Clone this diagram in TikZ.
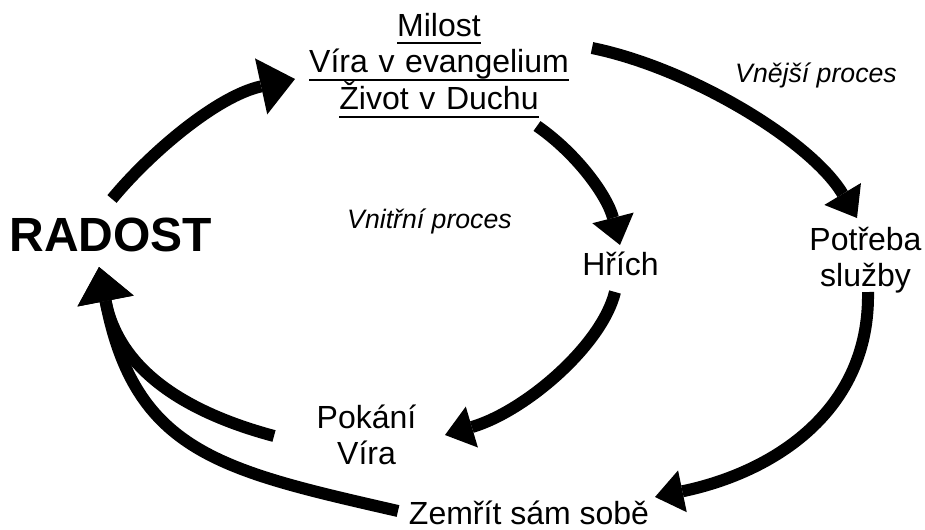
\documentclass[tikz,border=0pt]{standalone}
\usepackage{fontspec}
\setmainfont{Liberation Sans}
\usetikzlibrary{arrows.meta}
\newcommand\ulx[1]{\leavevmode\setbox0\hbox{#1}\rlap{\smash{\rule[-6pt]{\wd0}{1.5pt}}}\box0}
\begin{document}
\begin{tikzpicture}[x=0.75pt,y=-0.75pt,
  lbl/.style={font=\fontsize{24pt}{27.6pt}\selectfont, inner sep=0pt, anchor=base},
  multi/.style={lbl, align=center},
  proc/.style={font=\fontsize{20pt}{23pt}\selectfont\itshape, inner sep=0pt, anchor=base},
  big/.style={font=\fontsize{36pt}{41pt}\selectfont\bfseries, inner sep=0pt, anchor=base},
  arr/.style={line width=9pt, -{Triangle[length=21pt,width=32pt,line width=0pt]}},
  bigarr/.style={line width=9pt, -{Triangle[length=26pt,width=43pt,line width=0pt]}}]
\fill[white] (0,0) rectangle (925,529);
\useasboundingbox (0,0) rectangle (925,529);
% nodes
\node[multi, text width=7cm] (top) at (439,36) {\ulx{Milost}\\\ulx{Víra v evangelium}\\\ulx{Život v Duchu}};
\node[big] (radost) at (111,251) {RADOST};
\node[proc] (vnitr) at (429.5,228) {Vnitřní proces};
\node[lbl] (hrich) at (620.5,275) {Hřích};
\node[proc] (vnej) at (816,82) {Vnější proces};
\node[multi, text width=4cm] (potreba) at (865.5,250) {Potřeba\\služby};
\node[multi, text width=4cm] (pokani) at (366.5,428) {Pokání\\Víra};
\node[lbl] (zemrit) at (529,524) {Zemřít sám sobě};
% connector ends
\coordinate (radost-out) at (112,199);
\coordinate (top-in) at (295,79);
\coordinate (top-out1) at (537,126);
\coordinate (hrich-in) at (620,245);
\coordinate (top-out2) at (592,48);
\coordinate (potreba-in) at (857,218);
\coordinate (hrich-out) at (615,292);
\coordinate (pokani-in) at (445,435);
\coordinate (potreba-out) at (868,292);
\coordinate (zemrit-in) at (655,497);
\coordinate (pokani-out) at (274,436);
\coordinate (zemrit-out) at (398,511);
\coordinate (radost-in) at (99,267);
% connectors
\draw[bigarr] (radost-out) .. controls (150,153) and (217,96) .. (top-in);
\draw[arr] (top-out1) .. controls (578,154.5) and (607.5,196.5) .. (hrich-in);
\draw[arr] (top-out2) .. controls (690,68) and (811,141) .. (potreba-in);
\draw[arr] (hrich-out) .. controls (602,345) and (526,411) .. (pokani-in);
\draw[arr] (potreba-out) .. controls (870,410) and (775,472) .. (zemrit-in);
\draw[bigarr] (pokani-out) .. controls (177,410) and (118,365) .. (radost-in);
\draw[bigarr] (zemrit-out) .. controls (222.5,470.7) and (135,453) .. (radost-in);
\end{tikzpicture}
\end{document}
